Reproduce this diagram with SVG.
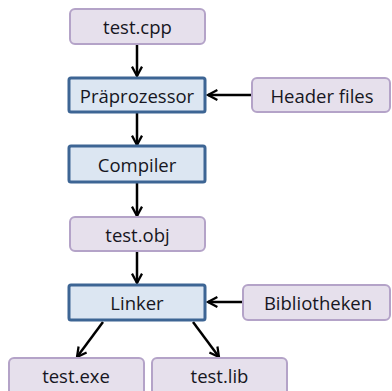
<svg xmlns="http://www.w3.org/2000/svg" width="392" height="391" viewBox="0 0 392 391">
<style>
.p rect{fill:#e6e0ec;stroke:#b4a3c8;stroke-width:2}
.b rect{fill:#dce6f2;stroke:#3d6594;stroke-width:3}
text{font-family:"Open Sans","Liberation Sans",sans-serif;font-size:18.5px;fill:#161622;text-anchor:middle;dominant-baseline:central}
#edges line{stroke:#000;stroke-width:2.5;marker-end:url(#ah)}
</style>
<defs>
<marker id="ah" viewBox="0 0 10 10" refX="8.5" refY="5" markerWidth="5" markerHeight="5" orient="auto" markerUnits="strokeWidth">
<path d="M1,1 L8.5,5 L1,9" fill="none" stroke="#000" stroke-width="1.8"/>
</marker>
</defs>
<rect width="392" height="391" fill="#fff"/>
<g id="edges">
<line x1="137" y1="44" x2="137" y2="76"/>
<line x1="252" y1="95" x2="208" y2="95"/>
<line x1="137" y1="113" x2="137" y2="145"/>
<line x1="137" y1="182" x2="137" y2="216"/>
<line x1="137" y1="251" x2="137" y2="283"/>
<line x1="243" y1="302" x2="208" y2="302"/>
<line x1="103" y1="322" x2="77" y2="357"/>
<line x1="193" y1="322" x2="219" y2="357"/>
</g>
<g id="n_cpp" class="p"><rect x="70" y="9" width="135" height="35" rx="5"/><text x="137.5" y="26.5">test.cpp</text></g>
<g id="n_pre" class="b"><rect x="69" y="78" width="136" height="34" rx="2"/><text x="137" y="95">Präprozessor</text></g>
<g id="n_hdr" class="p"><rect x="252" y="78" width="138" height="34" rx="5"/><text x="322" y="95">Header files</text></g>
<g id="n_comp" class="b"><rect x="69" y="146" width="136" height="36" rx="2"/><text x="137" y="164">Compiler</text></g>
<g id="n_obj" class="p"><rect x="70" y="217" width="135" height="34" rx="5"/><text x="137.5" y="234">test.obj</text></g>
<g id="n_link" class="b"><rect x="69" y="285" width="136" height="35" rx="2"/><text x="137" y="302.5">Linker</text></g>
<g id="n_lib" class="p"><rect x="243" y="285" width="147" height="35" rx="5"/><text x="318" y="302.5">Bibliotheken</text></g>
<g id="n_exe" class="p"><rect x="9" y="358" width="135" height="40" rx="5"/><text x="76" y="375">test.exe</text></g>
<g id="n_tlib" class="p"><rect x="152" y="358" width="135" height="40" rx="5"/><text x="219.5" y="375">test.lib</text></g>
</svg>
